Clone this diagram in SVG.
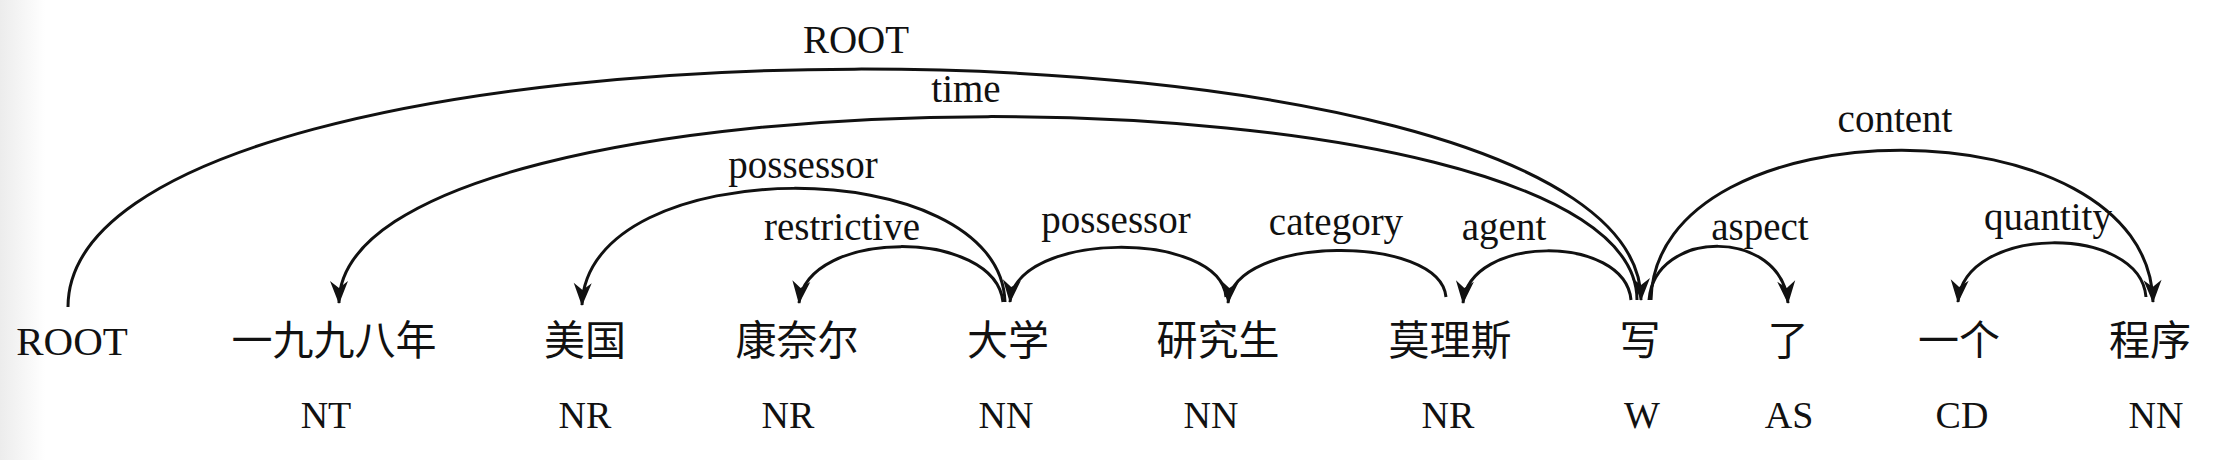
<svg xmlns="http://www.w3.org/2000/svg" width="2228" height="460" viewBox="0 0 2228 460">
<style>
.arc{fill:none;stroke:#111;stroke-width:3;marker-end:url(#ah)}
</style>
<defs>
<linearGradient id="edge" x1="0" y1="0" x2="1" y2="0">
<stop offset="0" stop-color="#ececec"/>
<stop offset="1" stop-color="#ffffff"/>
</linearGradient>
<marker id="ah" markerUnits="userSpaceOnUse" markerWidth="28" markerHeight="24" viewBox="-24 -12 26 24" refX="0" refY="0" orient="auto">
<path d="M1,0 L-22,-9 L-15,0 L-22,9 Z" fill="#111"/>
</marker>
</defs>
<rect width="2228" height="460" fill="#fff"/>
<rect width="45" height="460" fill="url(#edge)"/>
<g id="connectors">
<path id="e-root" class="arc" d="M68,307 C68,-9 1641,-9 1641,300"/>
<path id="e-time" class="arc" d="M1637,300 C1637,55 339,55 339,303"/>
<path id="e-poss1" class="arc" d="M1005,302 C1000,150 587,150 582,305"/>
<path id="e-restr" class="arc" d="M1003,302 C995,228 807,228 799,303"/>
<path id="e-poss2" class="arc" d="M1226,297 C1220,230 1016,230 1010,302"/>
<path id="e-cat" class="arc" d="M1446,297 C1440,234 1234,234 1228,303"/>
<path id="e-agent" class="arc" d="M1631,300 C1625,234 1469,234 1463,303"/>
<path id="e-aspect" class="arc" d="M1649,300 C1655,228 1782,228 1788,303"/>
<path id="e-content" class="arc" d="M1651,300 C1655,100 2149,100 2153,302"/>
<path id="e-quant" class="arc" d="M2146,297 C2140,224 1964,224 1958,302"/>
<g font-family="Liberation Serif, serif" font-size="39" fill="#111" text-anchor="middle">
<text x="856" y="53">ROOT</text>
<text x="966" y="102">time</text>
<text x="803" y="178">possessor</text>
<text x="842" y="240">restrictive</text>
<text x="1116" y="233">possessor</text>
<text x="1336" y="235">category</text>
<text x="1504" y="240">agent</text>
<text x="1760" y="240">aspect</text>
<text x="1895" y="132">content</text>
<text x="2048" y="230">quantity</text>
</g>
</g>
<g font-family="Liberation Serif, Noto Sans CJK SC, serif" font-size="41" fill="#111" text-anchor="middle">
<g id="n0"><text x="72" y="355">ROOT</text></g>
<g id="n1"><text x="334" y="355">一九九八年</text><text x="326" y="428" font-size="38">NT</text></g>
<g id="n2"><text x="585" y="355">美国</text><text x="585" y="428" font-size="38">NR</text></g>
<g id="n3"><text x="797" y="355">康奈尔</text><text x="788" y="428" font-size="38">NR</text></g>
<g id="n4"><text x="1008" y="355">大学</text><text x="1006" y="428" font-size="38">NN</text></g>
<g id="n5"><text x="1218" y="355">研究生</text><text x="1211" y="428" font-size="38">NN</text></g>
<g id="n6"><text x="1450" y="355">莫理斯</text><text x="1448" y="428" font-size="38">NR</text></g>
<g id="n7"><text x="1640" y="355">写</text><text x="1642" y="428" font-size="38">W</text></g>
<g id="n8"><text x="1788" y="355">了</text><text x="1789" y="428" font-size="38">AS</text></g>
<g id="n9"><text x="1959" y="355">一个</text><text x="1962" y="428" font-size="38">CD</text></g>
<g id="n10"><text x="2150" y="355">程序</text><text x="2156" y="428" font-size="38">NN</text></g>
</g>
</svg>
